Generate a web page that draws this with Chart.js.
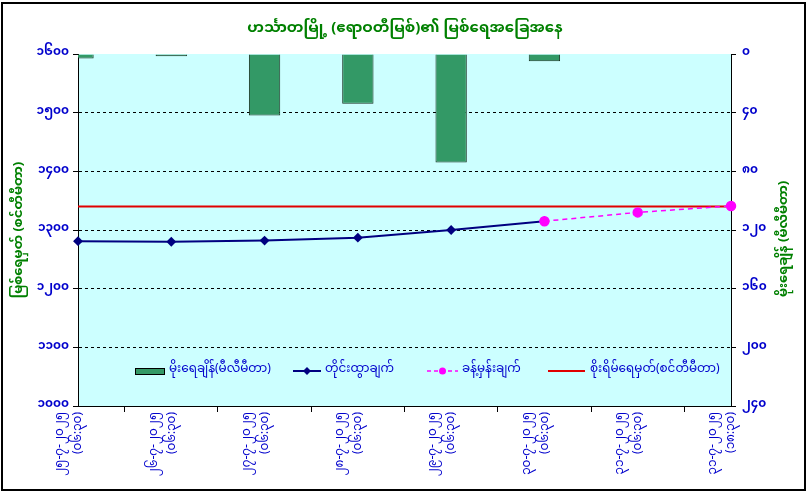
<!DOCTYPE html>
<html><head><meta charset="utf-8">
<script src="https://cdn.jsdelivr.net/npm/chart.js@4.4.1/dist/chart.umd.min.js"></script>
<style>html,body{margin:0;padding:0;background:#fff}#wrap{width:810px;height:493px;position:relative}</style>
</head><body><div id="wrap"><canvas id="c"></canvas></div>
<script>
// ---- data ----
const dateLabels = ['၂၅-၇-၂၀၂၅','၂၆-၇-၂၀၂၅','၂၇-၇-၂၀၂၅','၂၈-၇-၂၀၂၅','၂၉-၇-၂၀၂၅','၃၀-၇-၂၀၂၅','၃၁-၇-၂၀၂၅','၃၁-၇-၂၀၂၅'];
const timeLabels = ['(၀၆:၃၀)','(၀၆:၃၀)','(၀၆:၃၀)','(၀၆:၃၀)','(၀၆:၃၀)','(၀၆:၃၀)','(၀၆:၃၀)','(၁၈:၃၀)'];
const rainfall = [3, 1.5, 42, 34, 74, 5, null, null];
const observedLevel = [1281, 1280, 1282, 1287, 1300, 1315, null, null];
const forecastLevel = [null, null, null, null, null, 1315, 1330, 1341];
const dangerLevel = [1340, 1340, 1340, 1340, 1340, 1340, 1340, 1340];
const levelTickValues = [1000, 1100, 1200, 1300, 1400, 1500, 1600];
const levelTickLabels = ['၁၀၀၀','၁၁၀၀','၁၂၀၀','၁၃၀၀','၁၄၀၀','၁၅၀၀','၁၆၀၀'];
const rainTickValues = [0, 40, 80, 120, 160, 200, 240];
const rainTickLabels = ['၀','၄၀','၈၀','၁၂၀','၁၆၀','၂၀၀','၂၄၀'];
const titleText = 'ဟင်္သာတမြို့ (ဧရာဝတီမြစ်)၏ မြစ်ရေအခြေအနေ';
const leftTitle = 'မြစ်ရေမှတ် (စင်တီမီတာ)';
const rightTitle = 'မိုးရေချိန် (မီလီမီတာ)';
const seriesNames = ['မိုးရေချိန်(မီလီမီတာ)','တိုင်းထွာချက်','ခန့်မှန်းချက်','စိုးရိမ်ရေမှတ်(စင်တီမီတာ)'];

const MM = '"Noto Sans Myanmar","Padauk","Myanmar Text","Noto Sans",sans-serif';
const categories = dateLabels.map((d, i) => [d, timeLabels[i]]);

const bgPlugin = {
  id: 'bg',
  beforeDraw(chart) {
    const {ctx, chartArea: a} = chart;
    ctx.save();
    ctx.fillStyle = '#ffffff';
    ctx.fillRect(0, 0, chart.width, chart.height);
    ctx.fillStyle = '#CCFFFF';
    ctx.fillRect(a.left, a.top, a.right - a.left, a.bottom - a.top);
    ctx.strokeStyle = '#000';
    ctx.lineWidth = 2;
    ctx.strokeRect(2, 3, 803, 487);
    ctx.restore();
  },
  afterDraw(chart) {
    const {ctx, chartArea: a} = chart;
    ctx.save();
    ctx.translate(chart.width - 24, (a.top + a.bottom) / 2 + 9);
    ctx.rotate(-Math.PI / 2);
    ctx.font = 'bold 13px ' + MM;
    ctx.fillStyle = '#008000';
    ctx.textAlign = 'center';
    ctx.textBaseline = 'middle';
    ctx.fillText(rightTitle, 0, 0);
    ctx.restore();
  }
};

const legendPlugin = {
  id: 'customLegend',
  afterDatasetsDraw(chart) {
    const {ctx, chartArea: a} = chart;
    const ds = chart.data.datasets;
    const y = a.bottom - 35;
    ctx.save();
    ctx.font = '12px ' + MM;
    ctx.textBaseline = 'middle';
    // bar item
    let x = a.left + 57;
    ctx.fillStyle = ds[0].backgroundColor;
    ctx.fillRect(x, y - 3, 30, 7);
    ctx.strokeStyle = '#000'; ctx.lineWidth = 1;
    ctx.strokeRect(x + 0.5, y - 2.5, 29, 6);
    ctx.fillStyle = '#0000CC';
    ctx.fillText(ds[0].label, x + 34, y);
    // observed
    x = a.left + 215;
    ctx.strokeStyle = ds[1].borderColor; ctx.lineWidth = 2;
    ctx.beginPath(); ctx.moveTo(x, y); ctx.lineTo(x + 28, y); ctx.stroke();
    ctx.fillStyle = ds[1].borderColor;
    ctx.beginPath(); ctx.moveTo(x + 14, y - 4); ctx.lineTo(x + 18, y); ctx.lineTo(x + 14, y + 4); ctx.lineTo(x + 10, y); ctx.closePath(); ctx.fill();
    ctx.fillStyle = '#0000CC';
    ctx.fillText(ds[1].label, x + 32, y);
    // forecast
    x = a.left + 349;
    ctx.strokeStyle = ds[2].borderColor; ctx.lineWidth = 1.5;
    ctx.setLineDash([4, 3]);
    ctx.beginPath(); ctx.moveTo(x, y); ctx.lineTo(x + 31, y); ctx.stroke();
    ctx.setLineDash([]);
    ctx.fillStyle = ds[2].borderColor;
    ctx.beginPath(); ctx.arc(x + 15.5, y, 3.5, 0, Math.PI * 2); ctx.fill();
    ctx.fillStyle = '#0000CC';
    ctx.fillText(ds[2].label, x + 35, y);
    // danger
    x = a.left + 470;
    ctx.strokeStyle = ds[3].borderColor; ctx.lineWidth = 2;
    ctx.beginPath(); ctx.moveTo(x, y); ctx.lineTo(x + 37, y); ctx.stroke();
    ctx.fillStyle = '#0000CC';
    ctx.fillText(ds[3].label, x + 42, y);
    ctx.restore();
  }
};

new Chart(document.getElementById('c'), {
  data: {
    labels: categories,
    datasets: [
      { type: 'bar', label: seriesNames[0], data: rainfall, yAxisID: 'y1',
        backgroundColor: '#339966', borderColor: '#1a3322', borderWidth: 1,
        barPercentage: 0.42, categoryPercentage: 0.8, order: 4 },
      { type: 'line', label: seriesNames[1], data: observedLevel, yAxisID: 'y',
        borderColor: '#000080', backgroundColor: '#000080', borderWidth: 2,
        pointStyle: 'rectRot', pointRadius: 3.5, pointHoverRadius: 3.5, tension: 0, order: 2 },
      { type: 'line', label: seriesNames[2], data: forecastLevel, yAxisID: 'y',
        borderColor: '#FF00FF', backgroundColor: '#FF00FF', borderWidth: 1.5, borderDash: [5, 4],
        pointStyle: 'circle', pointRadius: 4.5, pointHoverRadius: 4.5, tension: 0, order: 1 },
      { type: 'line', label: seriesNames[3], data: dangerLevel, yAxisID: 'y',
        borderColor: '#E00000', borderWidth: 2, pointRadius: 0, tension: 0, order: 3 }
    ]
  },
  options: {
    responsive: true, maintainAspectRatio: false, animation: false,
    layout: { padding: 0 },
    plugins: {
      legend: { display: false },
      tooltip: { enabled: false },
      title: { display: true, text: titleText, color: '#008000',
        font: { family: MM, size: 15, weight: 'bold', lineHeight: 1.2 }, padding: { top: 21, bottom: 15 } }
    },
    scales: {
      x: {
        type: 'category', offset: false,
        grid: { drawOnChartArea: false, drawTicks: true, tickLength: 6, tickColor: '#000' },
        border: { color: '#000', width: 1 },
        ticks: { color: '#0000CC', autoSkip: false, minRotation: 90, maxRotation: 90,
          font: { family: MM, size: 12, lineHeight: 1.5 }, padding: 0, labelOffset: -16 },
        afterFit(s) { s.height = 87; }
      },
      y: {
        position: 'left', min: 1000, max: 1600,
        ticks: { stepSize: 100, color: '#0000CC', padding: 4,
          font: { family: MM, size: 12, weight: 'bold' },
          callback: (v) => levelTickLabels[levelTickValues.indexOf(v)] },
        grid: { color: c => (c.tick && (c.tick.value === 1000 || c.tick.value === 1600)) ? 'rgba(0,0,0,0)' : '#000',
          tickColor: '#000', tickLength: 5, lineWidth: 1 },
        border: { color: '#000', width: 1, dash: [3, 3] },
        title: { display: true, text: leftTitle, color: '#008000',
          font: { family: MM, size: 13, weight: 'bold' }, padding: { top: 13, bottom: 0 } },
        afterFit(s) { s.width = 78; }
      },
      y1: {
        position: 'right', min: 0, max: 240, reverse: true,
        ticks: { stepSize: 40, color: '#0000CC', padding: 6,
          font: { family: MM, size: 12, weight: 'bold' },
          callback: (v) => rainTickLabels[rainTickValues.indexOf(v)] },
        grid: { drawOnChartArea: false, tickColor: '#000', tickLength: 5 },
        border: { color: '#000', width: 1 },
        title: { display: false },
        afterFit(s) { s.width = 79; }
      }
    }
  },
  plugins: [bgPlugin, legendPlugin]
});
</script></body></html>
